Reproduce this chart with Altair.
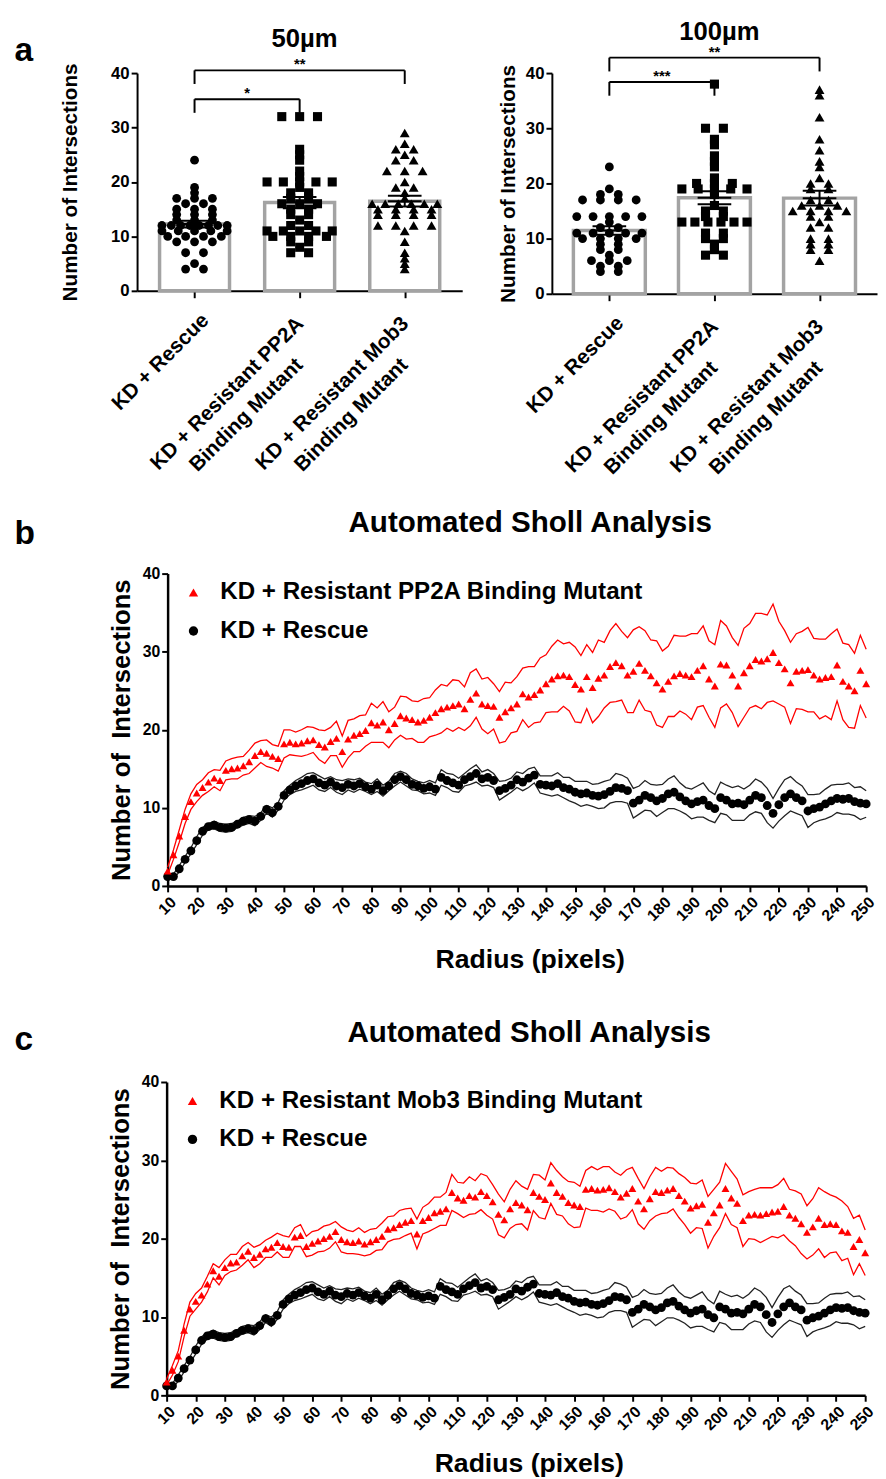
import altair as alt
import pandas as pd

FONT = "Liberation Sans"
RED = "#ff0000"
BLACK = "#000000"

# ---------------- panel a data ----------------
cat_idx = [0, 1, 2]
cat_line1 = ["KD + Rescue", "KD + Resistant PP2A", "KD + Resistant Mob3"]
cat_line2 = ["", "Binding Mutant", "Binding Mutant"]
cat_shape = ["circle", "square", "triangle-up"]

a50_rescue = [24, 19, 18, 17, 17, 17, 16, 16, 15, 15, 15, 14, 14, 14, 13, 13, 13,
              12, 12, 12, 12, 12, 12, 12, 12, 11, 11, 11, 11, 11, 10, 10, 10, 10,
              9, 9, 9, 7, 7, 5, 4, 4]
a50_pp2a = [32, 32, 32, 26, 25, 24, 22, 21, 20, 20, 20, 20, 20, 19, 18, 18, 17, 17,
            16, 16, 16, 15, 15, 14, 14, 13, 12, 12, 11, 11, 11, 11, 11, 10, 10, 10, 10,
            9, 9, 8, 7, 7]
a50_mob3 = [29, 27, 26, 26, 25, 24, 24, 22, 22, 22, 20, 19, 19, 18, 17, 16, 16, 16, 16,
            16, 16, 15, 15, 15, 15, 14, 14, 14, 14, 12, 12, 12, 12, 11, 9, 7, 6, 5, 4]

a100_rescue = [23, 19, 18, 18, 17, 17, 17, 17, 14, 14, 14, 14, 14, 13, 12, 12, 11, 11, 11,
               11, 11, 10, 10, 10, 10, 9, 9, 8, 8, 7, 6, 6, 6, 5, 5, 4, 4]
a100_pp2a = [38, 30, 30, 28, 27, 25, 24, 23, 21, 20, 20, 20, 19, 19, 19, 19, 19, 18, 16,
             15, 15, 14, 14, 13, 13, 13, 13, 13, 13, 11, 11, 10, 10, 9, 8, 7, 7]
a100_mob3 = [37, 36, 32, 28, 26, 24, 23, 21, 20, 20, 19, 19, 17, 17, 16, 16, 16, 15, 15,
             15, 15, 14, 14, 13, 12, 12, 10, 10, 9, 9, 8, 8, 6]

br50_from = [0, 0]
br50_to = [1, 2]
br50_y = [35.2, 40.5]
br50_text = ["*", "**"]
br100_from = [0, 0]
br100_to = [1, 2]
br100_y = [38.4, 42.8]
br100_text = ["***", "**"]

# ---------------- Sholl data (radius 10..250 step 2) ----------------
radius = list(range(10, 251, 2))
rescue_mean = [
    1.2, 1.2, 2.2, 3.4, 4.5, 5.8, 7.0, 7.6, 7.8, 7.5,
    7.4, 7.5, 7.9, 8.3, 8.5, 8.3, 8.9, 9.8, 9.4, 10.2,
    11.6, 12.3, 12.8, 13.1, 13.5, 13.7, 13.2, 12.9, 13.3, 12.8,
    12.6, 13.0, 12.8, 13.1, 12.7, 12.4, 12.9, 12.2, 12.8, 13.6,
    14.0, 13.6, 13.0, 12.8, 12.5, 12.7, 12.4, 13.9, 13.5, 13.2,
    12.9, 13.6, 14.0, 14.4, 13.7, 13.9, 13.5, 12.2, 12.5, 12.9,
    13.6, 13.3, 13.8, 14.2, 13.0, 12.9, 12.8, 13.1, 12.6, 12.4,
    12.0, 11.8, 11.9, 11.6, 11.5, 11.7, 12.1, 12.6, 12.5, 12.2,
    10.6, 11.0, 11.6, 11.3, 10.9, 11.2, 11.8, 12.0, 11.4, 10.9,
    10.5, 10.8, 11.0, 10.3, 9.9, 11.3, 11.0, 10.5, 10.6, 10.4,
    11.0, 11.6, 11.3, 10.3, 9.3, 10.4, 11.3, 11.8, 11.3, 10.9,
    9.6, 9.9, 10.1, 10.5, 10.9, 11.2, 11.1, 11.2, 10.8, 10.6,
    10.5]
rescue_sem = [
    0.3, 0.3, 0.4, 0.4, 0.4, 0.5, 0.5, 0.4, 0.5, 0.5,
    0.5, 0.5, 0.4, 0.5, 0.5, 0.6, 0.5, 0.5, 0.6, 0.5,
    0.6, 0.6, 0.7, 0.8, 0.9, 0.8, 0.9, 0.8, 0.7, 0.8,
    0.9, 0.7, 0.8, 0.7, 0.6, 0.7, 0.8, 0.7, 0.6, 0.8,
    0.7, 0.8, 0.7, 0.6, 0.7, 0.8, 0.8, 1.0, 0.9, 1.1,
    0.9, 0.8, 1.0, 1.1, 0.9, 1.0, 0.9, 1.2, 1.0, 0.9,
    1.0, 1.1, 1.2, 1.0, 1.1, 1.2, 1.3, 1.4, 1.3, 1.5,
    1.4, 1.6, 1.5, 1.4, 1.6, 1.7, 1.5, 1.8, 1.7, 1.6,
    1.9, 1.8, 1.9, 1.7, 2.0, 1.8, 1.9, 2.1, 1.8, 1.7,
    1.9, 2.0, 2.2, 1.9, 1.8, 2.0, 1.9, 2.1, 2.2, 2.0,
    1.9, 2.1, 2.0, 2.2, 1.9, 2.1, 2.3, 2.2, 2.0, 1.9,
    2.1, 1.8, 1.7, 1.9, 2.0, 1.8, 1.9, 2.0, 1.8, 2.1,
    1.7]
pp2a_mean = [
    1.9, 4.0, 6.4, 8.9, 10.8, 11.9, 12.6, 13.3, 13.8, 13.5,
    14.8, 15.0, 15.1, 15.4, 15.9, 16.7, 17.2, 17.0, 16.6, 16.3,
    18.2, 18.4, 18.2, 18.3, 18.6, 18.7, 18.1, 17.8, 18.5, 18.9,
    17.2, 18.8, 19.3, 19.5, 19.9, 20.9, 20.6, 21.0, 20.0, 20.8,
    21.8, 21.5, 21.3, 21.0, 21.2, 21.6, 22.2, 22.7, 22.9, 23.1,
    23.3, 22.7, 23.9, 24.7, 23.3, 23.1, 23.0, 21.6, 22.3, 22.8,
    23.3, 24.6, 24.2, 24.5, 25.1, 25.9, 26.5, 26.9, 27.0, 26.8,
    25.8, 25.2, 26.8, 25.4, 26.6, 27.0, 28.1, 28.6, 28.2, 27.0,
    27.5, 28.5, 27.6, 26.9, 26.0, 25.2, 26.2, 26.9, 27.2, 27.0,
    26.8, 27.6, 28.2, 26.5, 25.6, 28.4, 28.3, 27.0, 25.6, 27.3,
    28.2, 29.0, 28.8, 29.1, 29.9, 28.6, 27.8, 26.0, 27.5, 27.6,
    27.7, 27.0, 26.5, 26.7, 26.8, 28.3, 26.2, 25.6, 25.0, 27.6,
    25.9]
pp2a_sem = [
    0.5, 0.6, 0.8, 0.9, 1.0, 1.1, 1.0, 1.2, 1.1, 1.3,
    1.2, 1.3, 1.4, 1.2, 1.5, 1.6, 1.4, 1.7, 1.5, 1.6,
    1.8, 1.6, 1.5, 1.7, 1.8, 1.6, 1.9, 2.1, 1.8, 2.2,
    2.0, 2.4, 2.1, 2.3, 2.0, 2.5, 2.2, 2.6, 2.3, 2.1,
    2.5, 2.7, 2.4, 2.6, 2.8, 2.5, 2.9, 3.1, 2.7, 3.3,
    3.0, 2.8, 3.4, 3.1, 3.2, 3.6, 2.9, 3.3, 3.8, 3.2,
    3.5, 3.3, 3.9, 3.6, 4.1, 3.7, 4.2, 4.6, 4.0, 4.4,
    4.8, 4.3, 4.1, 4.5, 4.9, 4.2, 4.6, 5.0, 4.4, 4.8,
    5.3, 4.7, 5.1, 4.6, 5.4, 4.9, 4.5, 5.2, 4.8, 5.0,
    5.5, 4.7, 5.1, 4.9, 5.3, 5.6, 5.0, 4.8, 5.2, 5.7,
    5.4, 5.9, 6.1, 5.6, 6.2, 5.3, 4.9, 5.2, 4.8, 5.0,
    5.4, 4.7, 5.1, 4.9, 5.5, 4.6, 4.9, 5.3, 4.8, 4.5,
    4.4]
mob3_mean = [
    1.7, 3.2, 5.0, 8.3, 11.0, 12.0, 12.8, 14.2, 15.9, 15.2,
    16.3, 16.9, 17.0, 17.8, 18.4, 17.6, 18.0, 18.7, 18.9, 19.5,
    19.0, 18.9, 20.2, 20.4, 19.0, 19.4, 19.7, 20.0, 20.3, 20.9,
    19.9, 19.6, 19.5, 19.7, 19.3, 19.6, 19.9, 20.3, 21.2, 21.4,
    21.8, 22.1, 22.3, 20.6, 22.3, 22.7, 23.3, 23.5, 23.8, 25.9,
    25.2, 24.9, 25.5, 25.3, 26.0, 25.5, 24.7, 23.1, 22.4, 23.8,
    24.6, 24.3, 23.7, 25.9, 25.4, 25.0, 27.1, 25.9, 25.4, 24.6,
    24.3, 24.1, 26.3, 26.4, 26.2, 26.3, 26.5, 26.0, 25.3, 25.8,
    26.4, 24.8, 23.8, 25.1, 26.0, 25.9, 26.2, 26.4, 25.5, 24.8,
    23.9, 24.2, 24.4, 22.1, 23.3, 24.3, 26.4, 25.2, 24.5, 22.3,
    23.0, 23.1, 23.0, 23.2, 23.4, 23.5, 24.1, 23.0, 22.6, 21.9,
    20.8, 21.5, 22.6, 21.8, 21.9, 21.8, 21.0, 20.8, 19.0, 19.9,
    18.2]
mob3_sem = [
    0.4, 0.6, 0.7, 0.8, 0.9, 1.0, 0.9, 1.0, 0.9, 1.1,
    1.0, 1.1, 1.0, 1.2, 1.1, 1.3, 1.2, 1.1, 1.3, 1.2,
    1.4, 1.3, 1.2, 1.4, 1.3, 1.5, 1.4, 1.6, 1.5, 1.3,
    1.6, 1.5, 1.4, 1.7, 1.5, 1.6, 1.4, 1.7, 1.6, 1.5,
    1.8, 1.7, 1.6, 1.9, 1.7, 1.8, 2.0, 1.8, 2.1, 2.3,
    2.0, 2.2, 2.4, 2.1, 2.3, 2.5, 2.2, 2.6, 2.3, 2.5,
    2.8, 2.4, 2.6, 2.3, 2.7, 2.5, 2.6, 2.8, 2.5, 2.7,
    2.9, 2.6, 2.4, 2.8, 2.6, 2.9, 2.7, 2.5, 2.8, 3.0,
    2.7, 2.9, 2.6, 2.8, 3.1, 2.7, 2.9, 2.6, 2.8, 3.0,
    3.2, 2.8, 3.1, 3.3, 3.0, 2.9, 3.2, 3.4, 3.1, 3.3,
    3.0, 3.2, 3.5, 3.3, 3.1, 3.4, 3.6, 3.3, 3.5, 3.8,
    3.4, 3.6, 3.9, 4.2, 3.7, 3.5, 3.8, 3.3, 3.6, 3.1,
    2.9]

RESCUE = "KD + Rescue"
PP2A = "KD + Resistant PP2A Binding Mutant"
MOB3 = "KD + Resistant Mob3 Binding Mutant"


def text_layer(txt, x, y, size, align="center", baseline="alphabetic"):
    return alt.Chart(pd.DataFrame({"t": [txt]})).mark_text(
        fontSize=size, fontWeight="bold", align=align, baseline=baseline,
        color="black").encode(text="t:N", x=alt.value(x), y=alt.value(y))


def swarm_df(groups):
    rows = []
    for idx, vals in enumerate(groups):
        counts = {}
        for v in vals:
            counts[v] = counts.get(v, 0) + 1
        seen = {}
        for v in vals:
            n = counts[v]
            k = seen.get(v, 0)
            seen[v] = k + 1
            step = min(0.17, 0.62 / (n - 1)) if n > 1 else 0.0
            rows.append({"idx": idx, "value": v,
                         "xpos": idx + (k - (n - 1) / 2.0) * step})
    return pd.DataFrame(rows)


def panel_a(groups, title, title_y, height, br_from, br_to, br_y, br_text,
            letter, ytitle_pad, bar_size):
    W = 330
    pts = swarm_df(groups)
    xs = alt.Scale(domain=[-0.5, 2.5], nice=False, zero=False)
    ys = alt.Scale(domain=[0, 40], nice=False)
    xax = alt.Axis(values=[0, 1, 2], labels=False, title=None, ticks=True,
                   tickSize=7, tickWidth=2, domainWidth=2, grid=False)
    yax = alt.Axis(values=[0, 10, 20, 30, 40], title="Number of Intersections",
                   titleFontSize=21, titlePadding=ytitle_pad, labelFontSize=17,
                   labelPadding=2, tickSize=6, tickWidth=2, domainWidth=2, grid=False)

    def X(f):
        return alt.X(f, type="quantitative", scale=xs, axis=xax)

    def Y(f):
        return alt.Y(f, type="quantitative", scale=ys, axis=yax)

    base = alt.Chart(pts)
    agg = base.transform_aggregate(
        m="mean(value)", se="stderr(value)", groupby=["idx"]
    ).transform_calculate(
        lo="datum.m - datum.se", hi="datum.m + datum.se",
        xl="datum.idx - 0.16", xr="datum.idx + 0.16")

    bars = agg.mark_bar(size=bar_size, fill="white", stroke="#a3a3a3",
                        strokeWidth=3.5).encode(x=X("idx"), y=Y("m"))
    point_layers = []
    for k, shp in enumerate(cat_shape):
        sz = {"circle": 80, "square": 85, "triangle-up": 100}[shp]
        point_layers.append(
            base.transform_filter(alt.datum.idx == k).mark_point(
                filled=True, opacity=1, color="black", shape=shp, size=sz).encode(
                x=X("xpos"), y=Y("value")))
    vrule = agg.mark_rule(color="black", strokeWidth=2).encode(
        x=X("idx"), y=Y("lo"), y2="hi:Q")
    caps = [agg.mark_rule(color="black", strokeWidth=2).encode(
        x=X("xl"), x2="xr:Q", y=Y(f)) for f in ["hi", "lo", "m"]]

    seg_rows = []
    for f, t, y in zip(br_from, br_to, br_y):
        drop = 2.5
        seg_rows.append({"x": f, "x2": t, "y": y, "y2": y})
        seg_rows.append({"x": f, "x2": f, "y": y, "y2": y - drop})
        seg_rows.append({"x": t, "x2": t, "y": y, "y2": y - drop})
    segs = alt.Chart(pd.DataFrame(seg_rows)).mark_rule(color="black", strokeWidth=2).encode(
        x=X("x"), x2="x2:Q", y=Y("y"), y2="y2:Q")
    star_df = pd.DataFrame({"x": [(f + t) / 2.0 for f, t in zip(br_from, br_to)],
                            "y": br_y, "t": br_text})
    stars = alt.Chart(star_df).mark_text(fontSize=15, fontWeight="bold",
                                         baseline="alphabetic", dy=-1).encode(
        x=X("x"), y=Y("y"), text="t:N")

    lab = alt.Chart(pd.DataFrame({"idx": cat_idx, "l1": cat_line1, "l2": cat_line2}))
    tprops = dict(angle=315, align="right", baseline="alphabetic", fontSize=21,
                  fontWeight="bold")
    single = lab.transform_filter("datum.l2 == ''").mark_text(dx=-11, dy=33, **tprops).encode(
        x=X("idx"), y=alt.value(height), text="l1:N")
    first = lab.transform_filter("datum.l2 != ''").mark_text(dx=-21, dy=28, **tprops).encode(
        x=X("idx"), y=alt.value(height), text="l1:N")
    second = lab.transform_filter("datum.l2 != ''").mark_text(dx=-51, dy=57, **tprops).encode(
        x=X("idx"), y=alt.value(height), text="l2:N")

    layers = [bars] + point_layers + [vrule] + caps + [segs, stars, single, first, second]
    layers.append(text_layer(title, 170, title_y, 26))
    if letter:
        layers.append(text_layer(letter, -115, -22, 34, baseline="middle"))
    return alt.layer(*layers).properties(width=W, height=height)


def panel_sholl(mut_name, mut_mean, mut_sem, letter, height, letter_y, title_y, xtitle_y):
    rows = []
    for r, m, s in zip(radius, rescue_mean, rescue_sem):
        rows.append({"series": RESCUE, "radius": r, "mean": m, "sem": s})
    for r, m, s in zip(radius, mut_mean, mut_sem):
        rows.append({"series": mut_name, "radius": r, "mean": m, "sem": s})
    df = pd.DataFrame(rows)
    xs = alt.Scale(domain=[10, 250], nice=False, zero=False)
    ys = alt.Scale(domain=[0, 40], nice=False)
    xax = alt.Axis(values=list(range(10, 251, 10)), labelAngle=-45, labelAlign="right",
                   labelBaseline="top", labelFontSize=16, labelPadding=2, tickSize=6,
                   tickWidth=2, domainWidth=2.5, title=None, grid=False,
                   labelOverlap=False, labelFlush=False)
    yax = alt.Axis(values=[0, 10, 20, 30, 40], title="Number of\u00a0 Intersections",
                   titleFontSize=26, titlePadding=8, labelFontSize=16, labelPadding=2,
                   tickSize=6, tickWidth=2, domainWidth=2.5, grid=False)

    def X(f):
        return alt.X(f, type="quantitative", scale=xs, axis=xax)

    def Y(f):
        return alt.Y(f, type="quantitative", scale=ys, axis=yax)

    base = alt.Chart(df).transform_calculate(
        upper="datum.mean + datum.sem", lower="datum.mean - datum.sem")

    def band(series, field, color):
        return base.transform_filter(alt.datum.series == series).mark_line(
            color=color, strokeWidth=1.3).encode(x=X("radius"), y=Y(field))

    leg = alt.Legend(title=None, orient="none", legendX=14, legendY=7,
                     labelFontSize=24.5, labelFontWeight="bold", labelFont=FONT,
                     labelColor="black", symbolSize=90, rowPadding=14,
                     labelOffset=15, padding=0, symbolStrokeWidth=0, labelLimit=1000)
    cscale = alt.Scale(domain=[mut_name, RESCUE], range=[RED, BLACK])
    sscale = alt.Scale(domain=[mut_name, RESCUE], range=["triangle-up", "circle"])

    def pts(series, size):
        return base.transform_filter(alt.datum.series == series).mark_point(
            filled=True, opacity=1, size=size).encode(
            x=X("radius"), y=Y("mean"),
            color=alt.Color("series:N", scale=cscale, legend=leg),
            shape=alt.Shape("series:N", scale=sscale, legend=leg))

    return alt.layer(
        band(RESCUE, "upper", "#222222"), band(RESCUE, "lower", "#222222"),
        band(mut_name, "upper", RED), band(mut_name, "lower", RED),
        pts(RESCUE, 80), pts(mut_name, 65),
        text_layer(letter, -145, letter_y, 34, baseline="middle"),
        text_layer("Automated Sholl Analysis", 368, title_y, 30),
        text_layer("Radius (pixels)", 368, xtitle_y, 27),
    ).properties(width=709, height=height)


def spacer():
    return alt.Chart(pd.DataFrame({"v": [0]})).mark_point(size=1, opacity=0).encode(
        x=alt.value(0), y=alt.value(0)).properties(width=1, height=1)


IND = dict(color="independent", shape="independent")

aL = panel_a([a50_rescue, a50_pp2a, a50_mob3], "50µm", -26, 221,
             br50_from, br50_to, br50_y, br50_text, "a", 31, 71)
aR = panel_a([a100_rescue, a100_pp2a, a100_mob3], "100µm", -34, 224,
             br100_from, br100_to, br100_y, br100_text, None, 7, 73)

pb = panel_sholl(PP2A, pp2a_mean, pp2a_sem, "b", 317, -40, -42, 317 + 83)
pc = panel_sholl(MOB3, mob3_mean, mob3_sem, "c", 318, -42, -41, 318 + 78)

row1 = alt.hconcat(spacer(), alt.hconcat(aL, aR, spacing=36), spacing=4)
row2 = alt.hconcat(spacer(), pb, spacing=4).resolve_scale(**IND)
row3 = alt.hconcat(spacer(), pc, spacing=4).resolve_scale(**IND)
lower = alt.vconcat(row2, row3, spacing=46).resolve_scale(**IND)

chart = alt.vconcat(row1, lower, spacing=30).resolve_scale(**IND).properties(
    padding={"left": 0, "top": 0, "right": 0, "bottom": 0}
).configure(font=FONT).configure_view(stroke=None).configure_axis(
    labelFont=FONT, titleFont=FONT, labelFontWeight="bold", titleFontWeight="bold",
    labelColor="black", titleColor="black", domainColor="black", tickColor="black",
    grid=False
).configure_text(font=FONT, color="black")

chart.save("out.html", embed_options={"renderer": "svg", "actions": False})
